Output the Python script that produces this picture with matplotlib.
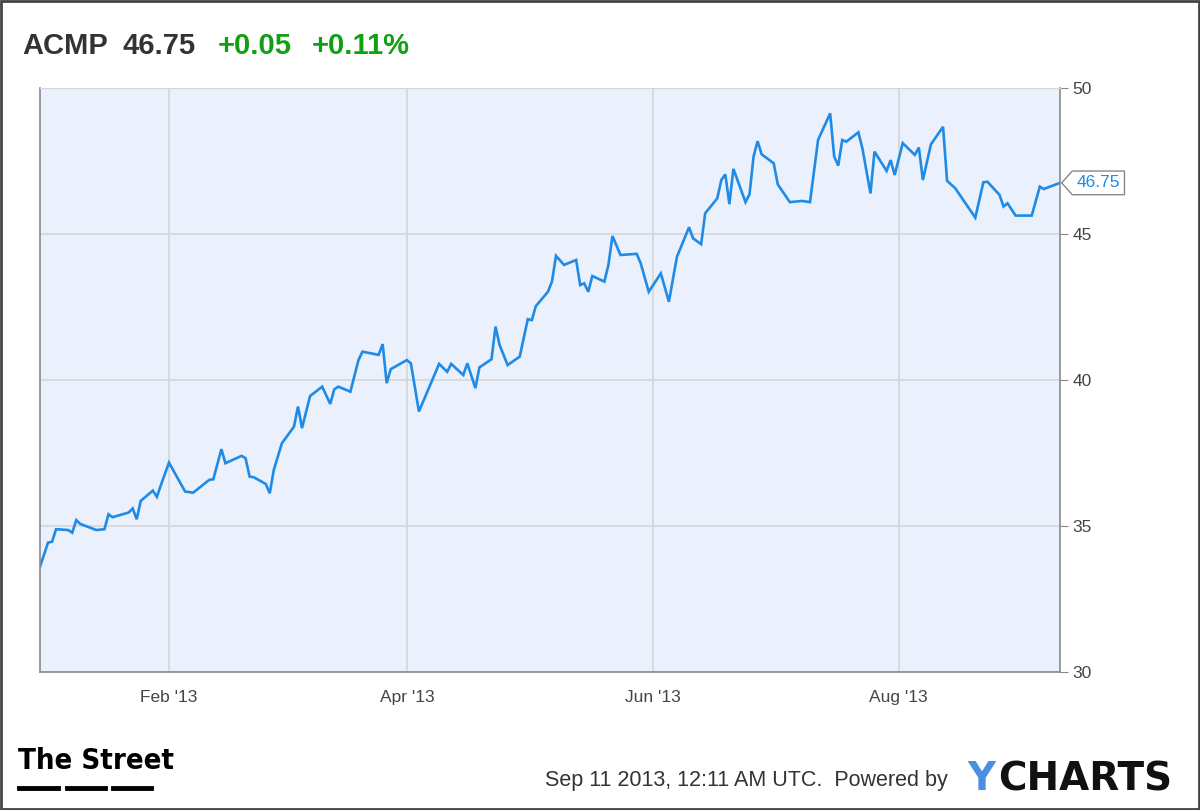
import matplotlib
matplotlib.use("Agg")
import matplotlib.pyplot as plt
from matplotlib.lines import Line2D
from matplotlib.path import Path
from matplotlib import font_manager
import pandas as pd

# ACMP closing prices
dates = ["2012-12-31", "2013-01-02", "2013-01-03", "2013-01-04", "2013-01-07", "2013-01-08",
         "2013-01-09", "2013-01-10", "2013-01-14", "2013-01-16", "2013-01-17", "2013-01-18",
         "2013-01-22", "2013-01-23", "2013-01-24", "2013-01-25", "2013-01-28", "2013-01-29",
         "2013-01-30", "2013-02-01", "2013-02-05", "2013-02-07", "2013-02-11", "2013-02-12",
         "2013-02-14", "2013-02-15", "2013-02-19", "2013-02-20", "2013-02-21", "2013-02-22",
         "2013-02-25", "2013-02-26", "2013-02-27", "2013-03-01", "2013-03-04", "2013-03-05",
         "2013-03-06", "2013-03-08", "2013-03-11", "2013-03-13", "2013-03-14", "2013-03-15",
         "2013-03-18", "2013-03-20", "2013-03-21", "2013-03-25", "2013-03-26", "2013-03-27",
         "2013-03-28", "2013-04-01", "2013-04-02", "2013-04-04", "2013-04-09", "2013-04-11",
         "2013-04-12", "2013-04-15", "2013-04-16", "2013-04-18", "2013-04-19", "2013-04-22",
         "2013-04-23", "2013-04-24", "2013-04-26", "2013-04-29", "2013-05-01", "2013-05-02",
         "2013-05-03", "2013-05-06", "2013-05-07", "2013-05-08", "2013-05-10", "2013-05-13",
         "2013-05-14", "2013-05-15", "2013-05-16", "2013-05-17", "2013-05-20", "2013-05-21",
         "2013-05-22", "2013-05-24", "2013-05-28", "2013-05-29", "2013-05-31", "2013-06-03",
         "2013-06-05", "2013-06-07", "2013-06-10", "2013-06-11", "2013-06-13", "2013-06-14",
         "2013-06-17", "2013-06-18", "2013-06-19", "2013-06-20", "2013-06-21", "2013-06-24",
         "2013-06-25", "2013-06-26", "2013-06-27", "2013-06-28", "2013-07-01", "2013-07-02",
         "2013-07-05", "2013-07-08", "2013-07-10", "2013-07-12", "2013-07-15", "2013-07-16",
         "2013-07-17", "2013-07-18", "2013-07-19", "2013-07-22", "2013-07-23", "2013-07-25",
         "2013-07-26", "2013-07-29", "2013-07-30", "2013-07-31", "2013-08-02", "2013-08-05",
         "2013-08-06", "2013-08-07", "2013-08-09", "2013-08-12", "2013-08-13", "2013-08-15",
         "2013-08-20", "2013-08-22", "2013-08-23", "2013-08-26", "2013-08-27", "2013-08-28",
         "2013-08-30", "2013-09-03", "2013-09-05", "2013-09-06", "2013-09-10"]
prices = [33.60, 34.43, 34.46, 34.89, 34.86, 34.77,
          35.20, 35.07, 34.86, 34.89, 35.40, 35.30,
          35.46, 35.60, 35.23, 35.86, 36.21, 36.00,
          36.40, 37.17, 36.18, 36.14, 36.58, 36.60,
          37.63, 37.15, 37.40, 37.32, 36.69, 36.67,
          36.44, 36.12, 36.92, 37.83, 38.40, 39.09,
          38.35, 39.45, 39.77, 39.18, 39.68, 39.77,
          39.60, 40.68, 40.97, 40.86, 41.23, 39.89,
          40.37, 40.68, 40.57, 38.92, 40.55, 40.28,
          40.55, 40.17, 40.57, 39.72, 40.43, 40.71,
          41.83, 41.20, 40.51, 40.80, 42.08, 42.05,
          42.53, 43.02, 43.37, 44.25, 43.94, 44.11,
          43.25, 43.31, 43.02, 43.56, 43.37, 43.94,
          44.93, 44.28, 44.32, 44.00, 43.02, 43.65,
          42.68, 44.22, 45.23, 44.85, 44.65, 45.71,
          46.22, 46.85, 47.04, 46.02, 47.23, 46.09,
          46.36, 47.65, 48.18, 47.73, 47.42, 46.70,
          46.09, 46.13, 46.09, 48.22, 49.13, 47.65,
          47.34, 48.22, 48.16, 48.48, 47.93, 46.39,
          47.82, 47.16, 47.53, 47.02, 48.11, 47.71,
          47.96, 46.85, 48.07, 48.67, 46.82, 46.57,
          45.56, 46.77, 46.79, 46.34, 45.94, 46.05,
          45.63, 45.63, 46.62, 46.54, 46.75]

ticker = "ACMP"
last_price = "46.75"
change = "+0.05"
change_pct = "+0.11%"
y_ticks = [30, 35, 40, 45, 50]
x_ticks = ["2013-02-01", "2013-04-01", "2013-06-01", "2013-08-01"]
x_labels = ["Feb '13", "Apr '13", "Jun '13", "Aug '13"]

x = pd.to_datetime(dates)

plt.rcParams['font.family'] = ['Liberation Sans', 'DejaVu Sans']


def tag_box(x0, y0, width, height, mutation_size):
    # rectangle with a pointed left side, like the price tag in the original
    pad = mutation_size * 0.25
    x0, y0 = x0 - pad, y0 - pad
    x1, y1 = x0 + width + 2 * pad, y0 + height + 2 * pad
    tip = (y1 - y0) * 0.45
    ym = (y0 + y1) / 2
    verts = [(x0 - tip, ym), (x0, y1), (x1, y1), (x1, y0), (x0, y0), (x0 - tip, ym)]
    return Path(verts, closed=True)


fig = plt.figure(figsize=(12, 8.1), dpi=100)
ax = fig.add_axes([0.0333, 0.1704, 0.85, 0.7210])
ax.set_facecolor('#eaf0fc')

ax.plot(x, prices, color='#1f8be6', linewidth=1.9, solid_joinstyle='miter')

ax.set_xlim(x[0], x[-1])
ax.set_ylim(30, 50)
ax.set_yticks(y_ticks)
ax.set_xticks(pd.to_datetime(x_ticks))
ax.set_xticklabels(x_labels)
ax.yaxis.tick_right()
ax.grid(True, color='#d6d6d6', linewidth=1.2)
ax.set_axisbelow(True)
ax.tick_params(axis='y', length=6, color='#888888', labelsize=12.5, labelcolor='#444444', pad=3)
ax.tick_params(axis='x', length=0, labelsize=12.5, labelcolor='#444444', pad=13)
for s in ['left', 'bottom', 'right']:
    ax.spines[s].set_color('#8a8a8a')
    ax.spines[s].set_linewidth(1.2)
ax.spines['top'].set_color('#d6d6d6')

# last value callout
ax.annotate(last_price, xy=(x[-1], prices[-1]), xytext=(12, 0), textcoords='offset points',
            ha='left', va='center', fontsize=12.5, color='#1f8be6', annotation_clip=False,
            bbox=dict(boxstyle=tag_box, fc='white', ec='#888888', lw=1))

# header
hdr_y = 0.943
fig.text(0.0183, hdr_y, ticker, fontsize=21, fontweight='bold', color='#333333', va='center')
fig.text(0.1017, hdr_y, last_price, fontsize=21, fontweight='bold', color='#333333', va='center')
fig.text(0.1817, hdr_y, change, fontsize=21, fontweight='bold', color='#11a011', va='center')
fig.text(0.2600, hdr_y, change_pct, fontsize=21, fontweight='bold', color='#11a011', va='center')

# footer logo
cond = font_manager.FontProperties(family='DejaVu Sans', weight='bold', stretch='condensed',
                                   size=21)
if 'Condensed' in font_manager.findfont(cond):
    fig.text(0.015, 0.061, "The Street", color='black', va='center', fontproperties=cond)
else:
    fig.text(0.015, 0.061, "The Street", fontsize=19, fontweight='bold', color='black',
             va='center')
for x0 in [0.016, 0.0558, 0.0942]:
    fig.add_artist(Line2D([x0, x0 + 0.032], [0.027, 0.027], color='black', lw=3.5,
                          transform=fig.transFigure))

fig.text(0.454, 0.036, "Sep 11 2013, 12:11 AM UTC.  Powered by", fontsize=15.5, color='#333333',
         va='center')
fig.text(0.806, 0.038, "Y", fontsize=28, fontweight='bold', color='#4a8fe0', va='center',
         family='DejaVu Sans')
fig.text(0.832, 0.038, "CHARTS", fontsize=28, fontweight='bold', color='#111111', va='center',
         family='DejaVu Sans')

# outer frame
fig.add_artist(plt.Rectangle((0.001, 0.001), 0.998, 0.998, fill=False, ec='#444444', lw=2,
                             transform=fig.transFigure))

fig.savefig('out.png', dpi=100)
